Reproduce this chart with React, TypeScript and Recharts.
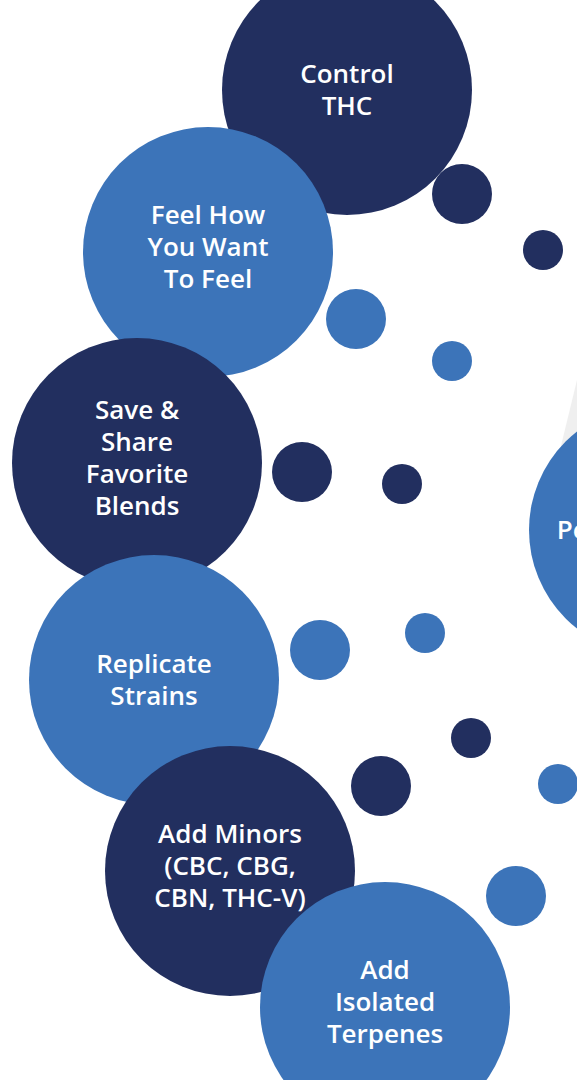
import { ScatterChart, Scatter, XAxis, YAxis, ReferenceArea } from "recharts";

// big labelled bubbles, drawn in this order (later ones sit on top)
const HUB_LABELS = [
  "Control\nTHC",
  "Feel How\nYou Want\nTo Feel",
  "Save &\nShare\nFavorite\nBlends",
  "Replicate\nStrains",
  "Add Minors\n(CBC, CBG,\nCBN, THC-V)",
  "Add\nIsolated\nTerpenes",
  "Personalization",
];
const HUB_X = [347, 208, 137, 154, 230, 385, 654];
const HUB_Y = [90, 252, 463, 680, 871, 1007, 530];
const HUB_TONE = ["dark", "light", "dark", "light", "dark", "light", "light"];

// small connector dots
const DOT_X = [462, 543, 356, 452, 302, 402, 320, 425, 471, 381, 558, 516];
const DOT_Y = [194, 250, 319, 361, 472, 484, 650, 633, 738, 786, 784, 896];
const DOT_SIZE = ["md", "sm", "md", "sm", "md", "sm", "md", "sm", "sm", "md", "sm", "md"];
const DOT_TONE = ["dark", "dark", "light", "light", "dark", "dark", "light", "light", "dark", "dark", "light", "light"];

const RADIUS: Record<string, number> = { lg: 125, md: 30, sm: 20 };
const FILL: Record<string, string> = { dark: "#222f5f", light: "#3c74b9" };

const hubs = HUB_LABELS.map((label, i) => ({
  x: HUB_X[i],
  y: HUB_Y[i],
  size: "lg",
  tone: HUB_TONE[i],
  label,
}));

const dots = DOT_X.map((x, i) => ({
  x,
  y: DOT_Y[i],
  size: DOT_SIZE[i],
  tone: DOT_TONE[i],
  label: "",
}));

function Bubble(props: any) {
  const { cx, cy, payload } = props;
  const r = RADIUS[payload.size];
  const lines: string[] = payload.label ? payload.label.split("\n") : [];
  const shift = lines.length > 2 ? -5 : 0;
  const first = cy - ((lines.length - 1) * 32) / 2 + 9 + shift;
  return (
    <g>
      <circle cx={cx} cy={cy} r={r} fill={FILL[payload.tone]} />
      {lines.length > 0 && (
        <text
          textAnchor="middle"
          fill="#fff"
          fontFamily="'Open Sans', sans-serif"
          fontWeight={600}
          fontSize={26}
        >
          {lines.map((l, i) => (
            <tspan key={i} x={cx} y={first + i * 32}>
              {l}
            </tspan>
          ))}
        </text>
      )}
    </g>
  );
}

function Wedge(props: any) {
  const { x, y, width, height } = props;
  return (
    <path
      d={`M${x + width},${y} L${x + width},${y + height} L${x},${y + height} Z`}
      fill="#efefef"
    />
  );
}

export default function App() {
  return (
    <div style={{ position: "absolute", left: 0, top: 0, background: "#fff" }}>
      <ScatterChart width={577} height={1080} margin={{ top: 0, right: 0, bottom: 0, left: 0 }}>
        <XAxis type="number" dataKey="x" domain={[0, 577]} allowDataOverflow hide />
        <YAxis type="number" dataKey="y" domain={[0, 1080]} allowDataOverflow reversed hide />
        <ReferenceArea x1={560} x2={577} y1={380} y2={450} shape={Wedge} />
        <Scatter data={dots} shape={Bubble} isAnimationActive={false} />
        <Scatter data={hubs} shape={Bubble} isAnimationActive={false} />
      </ScatterChart>
    </div>
  );
}
